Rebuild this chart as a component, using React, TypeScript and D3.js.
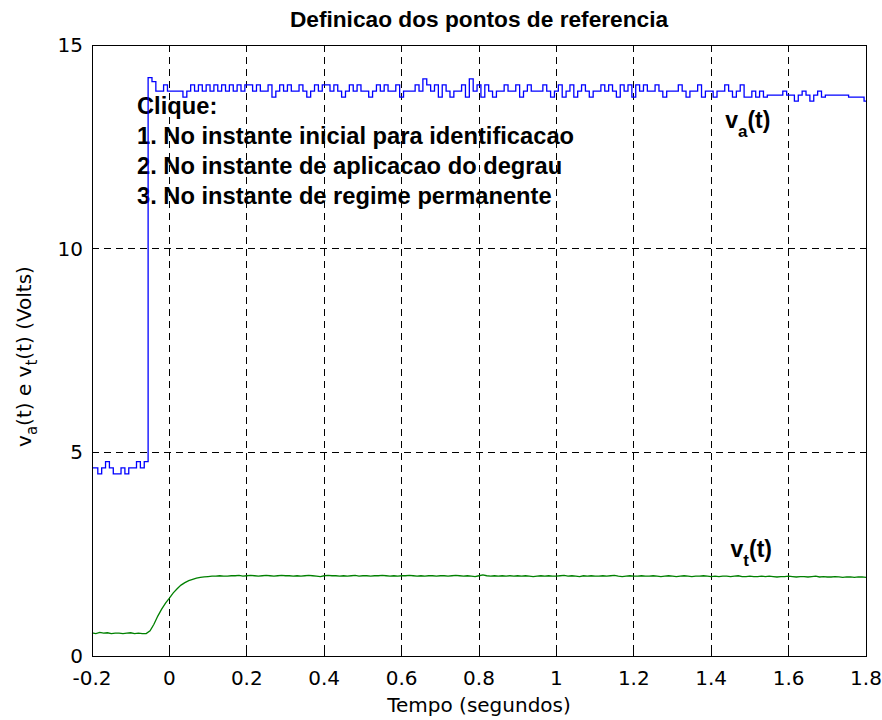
import * as d3 from "d3";

// sample instants (s), 0.01 s apart
const time = d3.range(201).map((i) => +(-0.2 + i * 0.01).toFixed(2));

// armature voltage va(t)
const vaPre = [4.62, 4.62, 4.47, 4.62, 4.77, 4.62, 4.47, 4.47, 4.62, 4.47, 4.62, 4.62, 4.77, 4.62, 4.77];
const vaStep = [
  14.2,
  14.1, 13.87, 13.87, 14.02, 13.87, 13.87, 13.87, 13.87, 13.72, 13.87,
  14.02, 13.87, 14.02, 13.87, 14.02, 13.87, 14.02, 13.87, 14.02, 13.87,
  14.02, 13.87, 14.02, 13.87, 14.02, 14.02, 13.87, 14.02, 13.87, 13.87,
  14.02, 13.72, 13.87, 14.02, 13.87, 14.02, 13.87, 13.87, 14.02, 13.87,
  13.72, 13.87, 14.02, 13.87, 14.02, 14.02, 13.87, 14.02, 13.87, 13.72,
  13.87, 14.02, 13.87, 14.02, 13.87, 13.87, 13.72, 13.87, 14.02, 13.87,
  14.02, 13.87, 13.87, 14.02, 13.72, 13.87, 13.87, 13.87, 14.02, 13.87,
  14.17, 14.02, 13.87, 14.02, 13.72, 14.02, 13.87, 13.72, 13.87, 13.87,
  14.02, 13.72, 14.17, 13.87, 14.02, 13.72, 14.02, 13.87, 13.72, 13.87,
  13.87, 14.02, 13.87, 13.87, 14.02, 13.72, 13.87, 14.02, 13.87, 13.87,
  13.87, 14.02, 13.87, 13.72, 13.87, 14.02, 13.72, 13.87, 14.02, 13.72,
  13.87, 14.02, 13.87, 13.72, 13.87, 13.87, 14.02, 13.87, 14.02, 13.87,
  13.72, 14.02, 13.87, 14.02, 13.72, 14.02, 13.87, 14.02, 13.87, 13.87,
  14.02, 13.87, 13.72, 13.87, 13.87, 13.87, 14.02, 13.87, 13.72, 13.87,
  13.87, 14.02, 13.72, 13.87, 13.87, 13.72, 13.87, 13.87, 14.02, 13.87,
  13.72, 13.87, 14.02, 13.72, 13.72, 13.87, 13.72, 13.87, 13.72, 13.77,
  13.77, 13.77, 13.77, 13.87, 13.77, 13.77, 13.62, 13.77, 13.87, 13.77,
  13.62, 13.77, 13.87, 13.72, 13.77, 13.77, 13.77, 13.77, 13.77, 13.77,
  13.72, 13.72, 13.72, 13.72, 13.62,
];
const va = [...vaPre, ...vaStep];

// terminal voltage vt(t)
const vtPre = [0.57, 0.55, 0.58, 0.56, 0.57, 0.55, 0.56, 0.56, 0.55, 0.56, 0.57, 0.55, 0.56, 0.55, 0.55];
const vtRise = [0.62, 0.78, 0.98, 1.15, 1.3, 1.42, 1.55, 1.65, 1.74, 1.8, 1.85, 1.88, 1.91, 1.93, 1.94, 1.95];
const vtSteady = [
  1.96, 1.96, 1.97, 1.96, 1.96, 1.97, 1.97, 1.98, 1.96, 1.97,
  1.98, 1.97, 1.96, 1.97, 1.98, 1.97, 1.96, 1.97, 1.98, 1.97,
  1.97, 1.96, 1.97, 1.96, 1.97, 1.98, 1.97, 1.96, 1.95, 1.97,
  1.98, 1.97, 1.97, 1.96, 1.97, 1.96, 1.97, 1.98, 1.96, 1.97,
  1.97, 1.96, 1.97, 1.97, 1.98, 1.97, 1.96, 1.97, 1.96, 1.97,
  1.97, 1.98, 1.97, 1.96, 1.97, 1.96, 1.97, 1.97, 1.96, 1.97,
  1.97, 1.96, 1.97, 1.98, 1.97, 1.96, 1.97, 1.96, 1.95, 1.97,
  1.99, 1.97, 1.96, 1.97, 1.96, 1.97, 1.96, 1.97, 1.96, 1.97,
  1.96, 1.97, 1.96, 1.95, 1.96, 1.97, 1.96, 1.97, 1.96, 1.96,
  1.97, 1.98, 1.96, 1.97, 1.96, 1.95, 1.97, 1.96, 1.97, 1.96,
  1.96, 1.97, 1.96, 1.97, 1.98, 1.96, 1.95, 1.96, 1.97, 1.96,
  1.96, 1.97, 1.96, 1.96, 1.97, 1.96, 1.95, 1.96, 1.97, 1.96,
  1.95, 1.96, 1.97, 1.96, 1.95, 1.96, 1.96, 1.97, 1.96, 1.95,
  1.96, 1.95, 1.96, 1.96, 1.95, 1.96, 1.97, 1.95, 1.95, 1.96,
  1.95, 1.95, 1.96, 1.95, 1.96, 1.95, 1.94, 1.95, 1.95, 1.96,
  1.95, 1.94, 1.95, 1.95, 1.94, 1.95, 1.96, 1.94, 1.95, 1.94,
  1.94, 1.95, 1.94, 1.93, 1.94, 1.94, 1.93, 1.94, 1.94, 1.93,
];
const vt = [...vtPre, ...vtRise, ...vtSteady];

const xTicks = [-0.2, 0, 0.2, 0.4, 0.6, 0.8, 1, 1.2, 1.4, 1.6, 1.8];
const yTicks = [0, 5, 10, 15];

const instructions = [
  "Clique:",
  "1. No instante inicial para identificacao",
  "2. No instante de aplicacao do degrau",
  "3. No instante de regime permanente",
];

const W = 882;
const H = 720;
const m = { left: 92, right: 16, top: 45, bottom: 64 };
const FONT = "'DejaVu Sans', sans-serif";
const BOLD = "'Liberation Sans', Arial, sans-serif";

export default function App() {
  const x = d3.scaleLinear().domain([-0.2, 1.8]).range([m.left, W - m.right]);
  const y = d3.scaleLinear().domain([0, 15]).range([H - m.bottom, m.top]);
  const [x0, x1] = x.range();
  const [y0, y1] = y.range();

  // va is quantised, so it is drawn as steps; vt is smooth
  const stepLine = d3
    .line<number>()
    .x((_, i) => x(time[i]))
    .y((d) => y(d))
    .curve(d3.curveStep);
  const line = d3
    .line<number>()
    .x((_, i) => x(time[i]))
    .y((d) => y(d));

  const tickLen = 6;

  return (
    <svg
      width={W}
      height={H}
      style={{ position: "absolute", left: 0, top: 0, background: "#fff" }}
    >
      <rect x={0} y={0} width={W} height={H} fill="#fff" />

      {/* title */}
      <text
        x={(x0 + x1) / 2}
        y={27}
        textAnchor="middle"
        fontFamily={BOLD}
        fontWeight="bold"
        fontSize={22.7}
      >
        Definicao dos pontos de referencia
      </text>

      {/* on-plot instructions */}
      {instructions.map((s, i) => (
        <text
          key={s}
          x={137}
          y={114 + i * 30}
          fontFamily={BOLD}
          fontWeight="bold"
          fontSize={23.7}
        >
          {s}
        </text>
      ))}

      {/* grid */}
      <g stroke="#000" strokeWidth={1} strokeDasharray="7,5" shapeRendering="crispEdges">
        {xTicks.slice(1, -1).map((t) => (
          <line key={"gx" + t} x1={x(t)} x2={x(t)} y1={y1} y2={y0} />
        ))}
        {yTicks.slice(1, -1).map((v) => (
          <line key={"gy" + v} x1={x0} x2={x1} y1={y(v)} y2={y(v)} />
        ))}
      </g>

      {/* traces */}
      <path d={stepLine(va) ?? ""} fill="none" stroke="#0000ff" strokeWidth={1.3} />
      <path d={line(vt) ?? ""} fill="none" stroke="#008000" strokeWidth={1.3} />

      {/* frame and inside ticks */}
      <g stroke="#000" strokeWidth={1} shapeRendering="crispEdges">
        <rect x={x0} y={y1} width={x1 - x0} height={y0 - y1} fill="none" />
        {xTicks.map((t) => (
          <g key={"tx" + t}>
            <line x1={x(t)} x2={x(t)} y1={y0} y2={y0 - tickLen} />
            <line x1={x(t)} x2={x(t)} y1={y1} y2={y1 + tickLen} />
          </g>
        ))}
        {yTicks.map((v) => (
          <g key={"ty" + v}>
            <line x1={x0} x2={x0 + tickLen} y1={y(v)} y2={y(v)} />
            <line x1={x1} x2={x1 - tickLen} y1={y(v)} y2={y(v)} />
          </g>
        ))}
      </g>

      {/* tick labels */}
      <g fontFamily={FONT} fontSize={20} fill="#000">
        {xTicks.map((t) => (
          <text key={"lx" + t} x={x(t)} y={y0 + 29} textAnchor="middle">
            {String(t)}
          </text>
        ))}
        {yTicks.map((v) => (
          <text key={"ly" + v} x={x0 - 9} y={y(v) + 7} textAnchor="end">
            {String(v)}
          </text>
        ))}
      </g>

      {/* axis labels */}
      <text
        x={(x0 + x1) / 2}
        y={712}
        textAnchor="middle"
        fontFamily={FONT}
        fontSize={20}
      >
        Tempo (segundos)
      </text>
      <text
        transform={`translate(31, ${(y0 + y1) / 2 + 6}) rotate(-90)`}
        textAnchor="middle"
        fontFamily={FONT}
        fontSize={20}
      >
        v<tspan dy={6} fontSize={15}>a</tspan>
        <tspan dy={-6}>(t) e v</tspan>
        <tspan dy={6} fontSize={15}>t</tspan>
        <tspan dy={-6}>(t) (Volts)</tspan>
      </text>

      {/* trace labels */}
      <text x={x(1.436)} y={y(12.96)} fontFamily={BOLD} fontWeight="bold" fontSize={23}>
        v<tspan dy={9} fontSize={17}>a</tspan>
        <tspan dy={-9}>(t)</tspan>
      </text>
      <text x={x(1.45)} y={y(2.43)} fontFamily={BOLD} fontWeight="bold" fontSize={23}>
        v<tspan dy={9} fontSize={17}>t</tspan>
        <tspan dy={-9}>(t)</tspan>
      </text>
    </svg>
  );
}
